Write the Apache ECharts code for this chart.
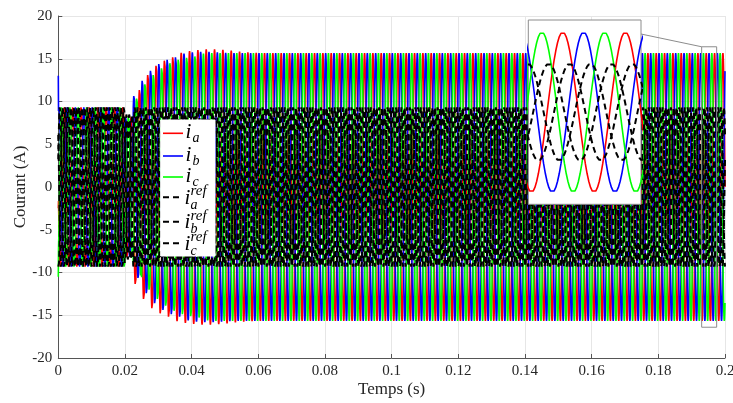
<!DOCTYPE html>
<html>
<head>
<meta charset="utf-8">
<script src="https://cdn.jsdelivr.net/npm/echarts@6/dist/echarts.min.js"></script>
<style>
html,body{margin:0;padding:0;background:#fff;}
#chart{width:733px;height:403px;}
</style>
</head>
<body>
<div id="chart"></div>
<script>
// ---- data ----
const period = 0.0025;            // s (one cycle of the three-phase currents)
// one cycle of phase a, unit amplitude, sampled 36 times (shape seen in the inset)
const cycleShape = [0, -0.174, -0.342, -0.5, -0.643, -0.766, -0.866, -0.94, -0.985, -1, -0.985, -0.94,
  -0.866, -0.766, -0.643, -0.5, -0.342, -0.174, 0, 0.174, 0.342, 0.5, 0.643, 0.766,
  0.866, 0.94, 0.985, 1, 0.985, 0.94, 0.866, 0.766, 0.643, 0.5, 0.342, 0.174];
// peak value of each cycle (80 cycles from 0 to 0.2 s)
const ampA = [9.45, 9.45, 9.45, 9.45, 9.45, 9.45, 9.45, 9.45, 8.3, 11.5,
  13.3, 14.4, 15.0, 15.4, 15.7, 15.9, 16.0, 16.1, 16.1, 16.05,
  15.95, 15.85, 15.75, 15.7, 15.65, 15.65, 15.65, 15.65, 15.65, 15.65,
  15.65, 15.65, 15.65, 15.65, 15.65, 15.65, 15.65, 15.65, 15.65, 15.65,
  15.65, 15.65, 15.65, 15.65, 15.65, 15.65, 15.65, 15.65, 15.65, 15.65,
  15.65, 15.65, 15.65, 15.65, 15.65, 15.65, 15.65, 15.65, 15.65, 15.65,
  15.65, 15.65, 15.65, 15.65, 15.65, 15.65, 15.65, 15.65, 15.65, 15.65,
  15.65, 15.65, 15.65, 15.65, 15.65, 15.65, 15.65, 15.65, 15.65, 15.65];
const ampB = [9.45, 9.45, 9.45, 9.45, 9.45, 9.45, 9.45, 9.45, 8.3, 10.8,
  12.6, 13.8, 14.6, 15.1, 15.4, 15.6, 15.75, 15.8, 15.8, 15.75,
  15.7, 15.65, 15.65, 15.65, 15.65, 15.65, 15.65, 15.65, 15.65, 15.65,
  15.65, 15.65, 15.65, 15.65, 15.65, 15.65, 15.65, 15.65, 15.65, 15.65,
  15.65, 15.65, 15.65, 15.65, 15.65, 15.65, 15.65, 15.65, 15.65, 15.65,
  15.65, 15.65, 15.65, 15.65, 15.65, 15.65, 15.65, 15.65, 15.65, 15.65,
  15.65, 15.65, 15.65, 15.65, 15.65, 15.65, 15.65, 15.65, 15.65, 15.65,
  15.65, 15.65, 15.65, 15.65, 15.65, 15.65, 15.65, 15.65, 15.65, 15.65];
const ampC = [9.45, 9.45, 9.45, 9.45, 9.45, 9.45, 9.45, 9.45, 8.3, 10.5,
  12.2, 13.3, 14.1, 14.7, 15.1, 15.35, 15.5, 15.6, 15.65, 15.65,
  15.65, 15.65, 15.65, 15.65, 15.65, 15.65, 15.65, 15.65, 15.65, 15.65,
  15.65, 15.65, 15.65, 15.65, 15.65, 15.65, 15.65, 15.65, 15.65, 15.65,
  15.65, 15.65, 15.65, 15.65, 15.65, 15.65, 15.65, 15.65, 15.65, 15.65,
  15.65, 15.65, 15.65, 15.65, 15.65, 15.65, 15.65, 15.65, 15.65, 15.65,
  15.65, 15.65, 15.65, 15.65, 15.65, 15.65, 15.65, 15.65, 15.65, 15.65,
  15.65, 15.65, 15.65, 15.65, 15.65, 15.65, 15.65, 15.65, 15.65, 15.65];
const ampRef = [9.45, 9.45, 9.45, 9.45, 9.45, 9.45, 9.45, 9.45, 8.6, 9.45,
  9.45, 9.45, 9.45, 9.45, 9.45, 9.45, 9.45, 9.45, 9.45, 9.45,
  9.45, 9.45, 9.45, 9.45, 9.45, 9.45, 9.45, 9.45, 9.45, 9.45,
  9.45, 9.45, 9.45, 9.45, 9.45, 9.45, 9.45, 9.45, 9.45, 9.45,
  9.45, 9.45, 9.45, 9.45, 9.45, 9.45, 9.45, 9.45, 9.45, 9.45,
  9.45, 9.45, 9.45, 9.45, 9.45, 9.45, 9.45, 9.45, 9.45, 9.45,
  9.45, 9.45, 9.45, 9.45, 9.45, 9.45, 9.45, 9.45, 9.45, 9.45,
  9.45, 9.45, 9.45, 9.45, 9.45, 9.45, 9.45, 9.45, 9.45, 9.45];
const startValues = [-2.5, 13, -10.5];     // ia, ib, ic at t = 0
const phaseShift = [0, 12, 24];            // samples of lag for a, b, c
const refLag = 4;                          // samples of lag of the references
const zoomT = [0.193, 0.1975];             // zoomed window (inset)
const zoomI = [-16.4, 16.4];
const xTicks = ['0', '0.02', '0.04', '0.06', '0.08', '0.1', '0.12', '0.14', '0.16', '0.18', '0.2'];
const yTicks = ['-20', '-15', '-10', '-5', '0', '5', '10', '15', '20'];
const seriesNames = ['ia', 'ib', 'ic', 'iaref', 'ibref', 'icref'];
const colors = ['#ff0000', '#0000ff', '#00ff00', '#000000', '#000000', '#000000'];

// ---- build the series table ----
function build(amp, shift, startVal) {
  const n = cycleShape.length, out = [];
  for (let k = 0; k < amp.length; k++) {
    for (let j = 0; j < n; j++) {
      const idx = (((j - shift) % n) + n) % n;
      out.push([+((k * n + j) * period / n).toFixed(8), amp[k] * cycleShape[idx]]);
    }
  }
  out.push([+(amp.length * period).toFixed(8), amp[amp.length - 1] * cycleShape[(((-shift) % n) + n) % n]]);
  if (startVal != null) out[0][1] = startVal;
  return out;
}
const dataSets = [
  build(ampA, phaseShift[0], startValues[0]),
  build(ampB, phaseShift[1], startValues[1]),
  build(ampC, phaseShift[2], startValues[2]),
  build(ampRef, phaseShift[0] + refLag),
  build(ampRef, phaseShift[1] + refLag),
  build(ampRef, phaseShift[2] + refLag)
];

const FONT = '"Liberation Serif", "DejaVu Serif", serif';
const chart = echarts.init(document.getElementById('chart'), null, {renderer: 'canvas'});

function mkSeries(gridIdx, z) {
  return dataSets.map((d, i) => ({
    name: seriesNames[i], type: 'line', xAxisIndex: gridIdx, yAxisIndex: gridIdx,
    data: d, showSymbol: false, symbol: 'none', animation: false, z: z,
    clip: true, silent: true,
    lineStyle: i < 3 ? {color: colors[i], width: 1.6}
                     : {color: '#000', width: 2, type: [6, 4]}
  }));
}

const gridL = 58.3, gridT = 16, gridR = 733 - 725, gridB = 403 - 358;
const inset = {x: 528.3, y: 20, w: 112.7, h: 184.3};

function buildLegend() {
  const els = [];
  const box = {x: 160.7, y: 120, w: 54.3, h: 136};
  els.push({type: 'rect', z: 40, silent: true, shape: {x: box.x, y: box.y, width: box.w, height: box.h},
    style: {fill: '#fff', stroke: '#ffffff', lineWidth: 1}});
  const ys = [133.3, 156, 177, 197.3, 221.7, 243.3];
  const subs = ['a', 'b', 'c', 'a', 'b', 'c'];
  const txt = (t, x, y, size) => ({type: 'text', z: 42, silent: true,
    style: {text: t, x: x, y: y, fill: '#000', font: 'italic ' + size + 'px ' + FONT,
      verticalAlign: 'middle', align: 'left', textVerticalAlign: 'middle', textAlign: 'left'}});
  ys.forEach((y, i) => {
    const dashed = i >= 3;
    const ls = {stroke: colors[i], lineWidth: dashed ? 2 : 1.6};
    if (dashed) ls.lineDash = [6, 4];
    els.push({type: 'line', z: 41, silent: true, shape: {x1: 163, y1: y, x2: 183, y2: y}, style: ls});
    if (!dashed) {
      els.push(txt('i', 185.5, y - 0.5, 21));
      els.push(txt(subs[i], 192.5, y + 5, 14));
    } else {
      els.push(txt('i', 184.5, y + 1, 21));
      els.push(txt('ref', 190.5, y - 6, 15));
      els.push(txt(subs[i], 190.5, y + 8, 14));
    }
  });
  return els;
}

const option = {
  animation: false,
  backgroundColor: '#fff',
  grid: [
    {left: gridL, top: gridT, right: gridR, bottom: gridB, containLabel: false, outerBoundsMode: 'none'},
    {left: inset.x, top: inset.y, width: inset.w, height: inset.h, z: 20, outerBoundsMode: 'none'}
  ],
  xAxis: [
    {type: 'value', gridIndex: 0, min: 0, max: 0.2, interval: 0.02,
     name: 'Temps (s)', nameLocation: 'middle', nameGap: 23, nameMoveOverlap: false,
     nameTextStyle: {fontFamily: FONT, fontSize: 17, color: '#262626'},
     axisLine: {show: true, onZero: false, lineStyle: {color: '#555', width: 1}},
     axisTick: {show: true, inside: true, length: 4, lineStyle: {color: '#555'}},
     axisLabel: {fontFamily: FONT, fontSize: 15, color: '#262626', margin: 6,
       formatter: (v) => xTicks[Math.round(v / 0.02)]},
     splitLine: {show: true, lineStyle: {color: '#e6e6e6', width: 1}}},
    {type: 'value', gridIndex: 1, min: zoomT[0], max: zoomT[1], show: false,
     splitLine: {show: false}}
  ],
  yAxis: [
    {type: 'value', gridIndex: 0, min: -20, max: 20, interval: 5,
     name: 'Courant (A)', nameLocation: 'middle', nameGap: 29, nameRotate: 90, nameMoveOverlap: false,
     nameTextStyle: {fontFamily: FONT, fontSize: 17, color: '#262626'},
     axisLine: {show: true, onZero: false, lineStyle: {color: '#555', width: 1}},
     axisTick: {show: true, inside: true, length: 4, lineStyle: {color: '#555'}},
     axisLabel: {fontFamily: FONT, fontSize: 15, color: '#262626', margin: 6,
       formatter: (v) => yTicks[Math.round((v + 20) / 5)]},
     splitLine: {show: true, lineStyle: {color: '#e6e6e6', width: 1}}},
    {type: 'value', gridIndex: 1, min: -18, max: 18, show: false, splitLine: {show: false}}
  ],
  graphic: [
    {type: 'rect', z: 19, silent: true,
     shape: {x: inset.x, y: inset.y, width: inset.w, height: inset.h},
     style: {fill: '#fff', stroke: '#8c8c8c', lineWidth: 1}}
  ].concat(buildLegend()),
  series: [].concat(mkSeries(0, 2), mkSeries(1, 21), [{
    type: 'custom', xAxisIndex: 0, yAxisIndex: 0, z: 15, silent: true, clip: false,
    data: [[zoomT[0], zoomT[1], zoomI[0], zoomI[1]]],
    encode: {x: [0, 1], y: [2, 3]},
    renderItem: function (params, api) {
      const p1 = api.coord([api.value(0), api.value(3)]);
      const p2 = api.coord([api.value(1), api.value(2)]);
      return {type: 'group', children: [
        {type: 'rect', shape: {x: p1[0], y: p1[1], width: p2[0] - p1[0], height: p2[1] - p1[1]},
         style: {fill: 'none', stroke: '#8c8c8c', lineWidth: 1}},
        {type: 'line', shape: {x1: inset.x + inset.w, y1: 34, x2: p1[0], y2: p1[1]},
         style: {stroke: '#8c8c8c', lineWidth: 1}}
      ]};
    }
  }])
};

chart.setOption(option);
</script>
</body>
</html>
